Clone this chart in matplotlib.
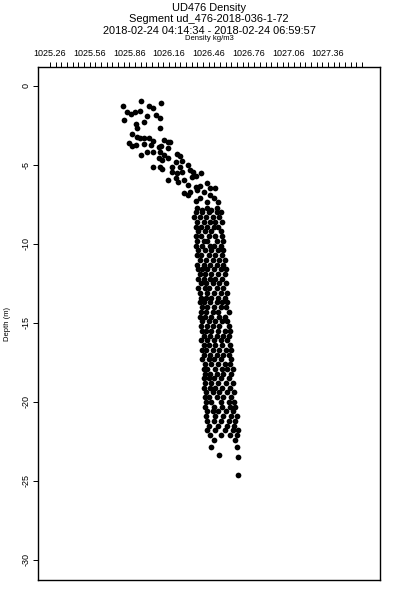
import matplotlib
matplotlib.use('Agg')
import matplotlib.pyplot as plt
import numpy as np

# title texts
title_lines = ['UD476 Density', 'Segment ud_476-2018-036-1-72',
               '2018-02-24 04:14:34 - 2018-02-24 06:59:57']
x_label = 'Density kg/m3'
y_label = 'Depth (m)'

# labelled ticks on the top axis
x_tick_values = [1025.26, 1025.56, 1025.86, 1026.16, 1026.46, 1026.76, 1027.06, 1027.36]
y_tick_values = [0, -5, -10, -15, -20, -25, -30]

# upper (mixed layer) points
upper_density = [1025.81, 1025.95, 1026.01, 1026.04, 1026.10, 1025.84, 1025.87, 1025.90,
                 1025.94, 1025.99, 1026.06, 1026.09, 1025.82, 1025.91, 1025.97, 1025.92,
                 1026.09, 1025.88, 1025.92, 1025.94, 1025.97, 1026.01, 1026.04, 1026.12,
                 1026.15, 1026.17, 1025.86, 1025.88, 1025.91, 1025.97, 1026.02, 1026.08,
                 1026.10, 1026.15, 1025.95, 1025.99, 1026.04, 1026.09, 1026.12, 1026.22,
                 1026.24, 1026.08, 1026.11, 1026.15, 1026.21, 1026.26, 1026.04, 1026.09,
                 1026.11, 1026.18, 1026.24, 1026.30, 1026.18, 1026.22, 1026.26, 1026.32,
                 1026.34, 1026.40, 1026.15, 1026.21, 1026.23, 1026.27, 1026.33, 1026.36,
                 1026.30, 1026.36, 1026.39, 1026.45, 1026.27, 1026.32, 1026.37, 1026.42,
                 1026.47, 1026.51, 1026.30, 1026.47, 1026.36, 1026.39, 1026.45, 1026.50,
                 1026.53, 1026.37, 1026.41, 1026.45, 1026.48, 1026.52]
upper_depth = [-1.27, -0.95, -1.27, -1.39, -1.08, -1.65, -1.77, -1.65,
               -1.58, -1.90, -1.84, -2.03, -2.15, -2.41, -2.28, -2.66,
               -2.66, -3.04, -3.23, -3.29, -3.29, -3.29, -3.48, -3.42,
               -3.54, -3.54, -3.61, -3.80, -3.73, -3.67, -3.73, -3.86,
               -3.80, -3.92, -4.37, -4.18, -4.18, -4.18, -4.37, -4.30,
               -4.43, -4.56, -4.68, -4.56, -4.81, -4.75, -5.13, -5.13,
               -5.25, -5.13, -5.13, -5.00, -5.44, -5.51, -5.44, -5.32,
               -5.44, -5.51, -5.95, -5.82, -6.08, -5.95, -5.76, -5.70,
               -6.27, -6.39, -6.33, -6.14, -6.77, -6.71, -6.58, -6.71,
               -6.46, -6.46, -6.90, -6.90, -7.28, -7.09, -7.34, -7.09,
               -7.34, -7.72, -7.85, -7.72, -7.85, -7.72]

# lower column, one row of densities per depth
column_depth = [-8.0, -8.3, -8.6, -8.9, -9.2, -9.5, -9.8, -10.1, -10.4, -10.7,
                -11.0, -11.3, -11.6, -11.9, -12.2, -12.5, -12.8, -13.1, -13.4, -13.7,
                -14.0, -14.3, -14.6, -14.9, -15.2, -15.5, -15.8, -16.1, -16.4, -16.7,
                -17.0, -17.3, -17.6, -17.9, -18.2, -18.5, -18.8, -19.1, -19.4, -19.7,
                -20.0, -20.3, -20.6, -20.9, -21.2, -21.5, -21.8, -22.1, -22.4]
column_density = [
    [1026.36, 1026.41, 1026.46, 1026.52, 1026.55],
    [1026.35, 1026.39, 1026.44, 1026.49, 1026.54],
    [1026.37, 1026.42, 1026.47, 1026.51, 1026.56],
    [1026.36, 1026.40, 1026.45, 1026.50, 1026.53],
    [1026.38, 1026.43, 1026.48, 1026.55],
    [1026.36, 1026.40, 1026.46, 1026.51, 1026.56],
    [1026.37, 1026.42, 1026.45, 1026.52, 1026.57],
    [1026.36, 1026.41, 1026.47, 1026.50, 1026.55],
    [1026.38, 1026.43, 1026.48, 1026.53, 1026.57],
    [1026.37, 1026.40, 1026.46, 1026.51, 1026.56],
    [1026.39, 1026.44, 1026.49, 1026.54, 1026.58],
    [1026.37, 1026.42, 1026.47, 1026.52, 1026.57],
    [1026.38, 1026.41, 1026.45, 1026.50, 1026.55, 1026.59],
    [1026.39, 1026.43, 1026.48, 1026.53, 1026.58],
    [1026.38, 1026.42, 1026.47, 1026.51, 1026.56],
    [1026.40, 1026.44, 1026.49, 1026.54, 1026.59],
    [1026.38, 1026.43, 1026.46, 1026.52, 1026.57],
    [1026.39, 1026.45, 1026.50, 1026.55, 1026.60],
    [1026.40, 1026.44, 1026.48, 1026.53, 1026.58],
    [1026.39, 1026.42, 1026.47, 1026.52, 1026.56, 1026.60],
    [1026.41, 1026.45, 1026.50, 1026.55, 1026.59],
    [1026.40, 1026.44, 1026.49, 1026.53, 1026.61],
    [1026.39, 1026.43, 1026.48, 1026.54, 1026.58],
    [1026.41, 1026.46, 1026.51, 1026.56, 1026.60],
    [1026.40, 1026.45, 1026.49, 1026.54, 1026.61],
    [1026.41, 1026.44, 1026.48, 1026.53, 1026.58, 1026.62],
    [1026.42, 1026.47, 1026.52, 1026.57, 1026.61],
    [1026.40, 1026.45, 1026.50, 1026.55, 1026.60],
    [1026.42, 1026.46, 1026.51, 1026.56, 1026.62],
    [1026.41, 1026.44, 1026.49, 1026.54, 1026.59, 1026.63],
    [1026.42, 1026.47, 1026.52, 1026.57, 1026.61],
    [1026.41, 1026.46, 1026.50, 1026.55, 1026.63],
    [1026.43, 1026.48, 1026.53, 1026.58, 1026.62],
    [1026.42, 1026.45, 1026.51, 1026.56, 1026.60, 1026.64],
    [1026.43, 1026.47, 1026.52, 1026.57, 1026.63],
    [1026.42, 1026.46, 1026.50, 1026.55, 1026.61],
    [1026.43, 1026.48, 1026.53, 1026.59, 1026.64],
    [1026.42, 1026.47, 1026.51, 1026.56, 1026.62],
    [1026.44, 1026.49, 1026.54, 1026.60, 1026.65],
    [1026.43, 1026.46, 1026.52, 1026.57, 1026.63],
    [1026.44, 1026.48, 1026.55, 1026.61, 1026.65],
    [1026.43, 1026.50, 1026.56, 1026.62, 1026.66],
    [1026.45, 1026.49, 1026.53, 1026.59, 1026.64],
    [1026.44, 1026.51, 1026.57, 1026.63, 1026.67],
    [1026.45, 1026.50, 1026.55, 1026.61, 1026.66],
    [1026.46, 1026.53, 1026.60, 1026.65],
    [1026.45, 1026.51, 1026.58, 1026.64, 1026.68],
    [1026.47, 1026.55, 1026.62, 1026.67],
    [1026.50, 1026.66],
]

# sparse points at the bottom
bottom_density = [1026.48, 1026.54, 1026.67, 1026.68, 1026.68]
bottom_depth = [-22.85, -23.35, -22.85, -23.48, -24.62]

plt.rcParams['font.family'] = ['Liberation Sans', 'DejaVu Sans']

fig = plt.figure(figsize=(4, 6), dpi=100)
ax = fig.add_axes([0.095, 0.0333, 0.855, 0.855])

# flatten the column rows
col_x = []
col_y = []
for d, row in zip(column_depth, column_density):
    for v in row:
        col_x.append(v)
        col_y.append(d)

all_x = upper_density + col_x + bottom_density
all_y = upper_depth + col_y + bottom_depth
ax.scatter(all_x, all_y, s=17, c='black', marker='o', linewidths=0)

ax.set_xlim(1025.169, 1027.754)
ax.set_ylim(-31.27, 1.2)

# top axis ticks
ax.xaxis.tick_top()
ax.set_xticks(x_tick_values)
ax.set_xticklabels(['%.2f' % v for v in x_tick_values], fontsize=6.5)
minor = 1025.26 + np.arange(56) * 0.3 / 7
ax.set_xticks(minor, minor=True)
ax.tick_params(axis='x', which='both', direction='out', length=3.5, width=0.7, pad=3)

ax.set_yticks(y_tick_values)
ax.set_yticklabels([str(v) for v in y_tick_values], fontsize=6.5, rotation=90, va='center')
ax.tick_params(axis='y', direction='out', length=3.5, width=0.7, pad=2)

for s in ax.spines.values():
    s.set_linewidth(1.0)

fig.text(0.5225, 0.9867, title_lines[0], ha='center', va='center', fontsize=7.9)
fig.text(0.5225, 0.9675, title_lines[1], ha='center', va='center', fontsize=7.9)
fig.text(0.5225, 0.949, title_lines[2], ha='center', va='center', fontsize=7.9)
fig.text(0.5225, 0.935, x_label, ha='center', va='center', fontsize=5.5)
fig.text(0.018, 0.46, y_label, ha='center', va='center', rotation=90, fontsize=5.5)

fig.savefig('out.png', dpi=100)
